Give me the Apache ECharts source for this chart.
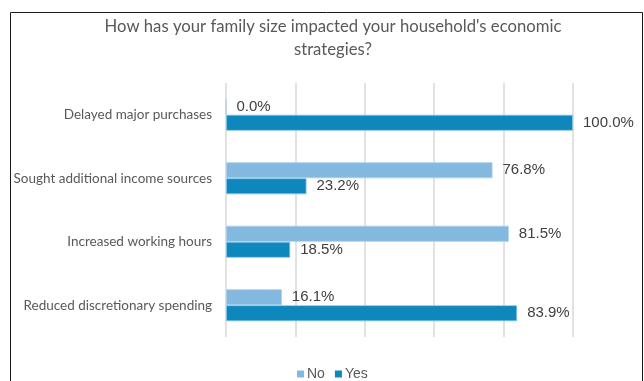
<!DOCTYPE html>
<html>
<head>
<meta charset="utf-8">
<script src="https://cdn.jsdelivr.net/npm/echarts@6/dist/echarts.min.js"></script>
<style>
  html, body { margin: 0; padding: 0; background: #ffffff; }
  #chart { width: 644px; height: 381px; }
</style>
</head>
<body>
<div id="chart"></div>
<script>
// Survey answers, one row per strategy (top to bottom)
const categories = [
  'Delayed major purchases',
  'Sought additional income sources',
  'Increased working hours',
  'Reduced discretionary spending'
];
const noValues = [0.0, 76.8, 81.5, 16.1];
const yesValues = [100.0, 23.2, 18.5, 83.9];
const seriesNames = ['No', 'Yes'];
const titleText = "How has your family size impacted your household's economic\nstrategies?";

const chart = echarts.init(document.getElementById('chart'), null, { renderer: 'canvas' });

const labelStyle = {
  show: true,
  position: 'right',
  distance: 10,
  formatter: p => p.value.toFixed(1) + '%',
  fontFamily: 'Liberation Sans',
  fontSize: 15,
  color: '#404040'
};

chart.setOption({
  animation: false,
  backgroundColor: '#ffffff',
  title: {
    text: titleText,
    left: 333,
    top: 15,
    textAlign: 'center',
    padding: 0,
    textStyle: {
      fontFamily: 'Lato',
      fontSize: 16.7,
      fontWeight: 'normal',
      color: '#595959',
      lineHeight: 23
    }
  },
  graphic: [{
    type: 'rect',
    shape: { x: 10.5, y: 12.5, width: 632, height: 380 },
    style: { fill: 'none', stroke: '#1a1a1a', lineWidth: 1 },
    silent: true
  }],
  legend: {
    data: seriesNames,
    left: 297,
    top: 367,
    itemWidth: 7,
    itemHeight: 7,
    itemGap: 10,
    icon: 'rect',
    padding: 0,
    itemStyle: { borderWidth: 0 },
    textStyle: { fontFamily: 'Liberation Sans', fontSize: 14, color: '#595959', padding: [0, 0, 0, -2] }
  },
  grid: { left: 226, right: 71, top: 83, bottom: 44, containLabel: false },
  xAxis: {
    type: 'value',
    min: 0,
    max: 100,
    interval: 20,
    axisLabel: { show: false },
    axisLine: { show: false },
    axisTick: { show: false },
    splitLine: { show: true, lineStyle: { color: '#d9d9d9', width: 1.5 } }
  },
  yAxis: {
    type: 'category',
    data: categories,
    inverse: true,
    axisLine: { show: false },
    axisTick: { show: false },
    splitLine: { show: false },
    axisLabel: {
      margin: 14,
      fontFamily: 'Lato',
      fontSize: 13.5,
      color: '#595959'
    }
  },
  series: [
    {
      name: seriesNames[0],
      type: 'bar',
      data: noValues,
      barWidth: 16,
      barGap: '0%',
      itemStyle: { color: '#83b8df', borderColor: '#a9d2ef', borderWidth: 0.8 },
      label: labelStyle
    },
    {
      name: seriesNames[1],
      type: 'bar',
      data: yesValues,
      barWidth: 16,
      barGap: '0%',
      itemStyle: { color: '#0e87bc', borderColor: '#8cc6e8', borderWidth: 0.8 },
      label: labelStyle
    }
  ]
});
</script>
</body>
</html>
